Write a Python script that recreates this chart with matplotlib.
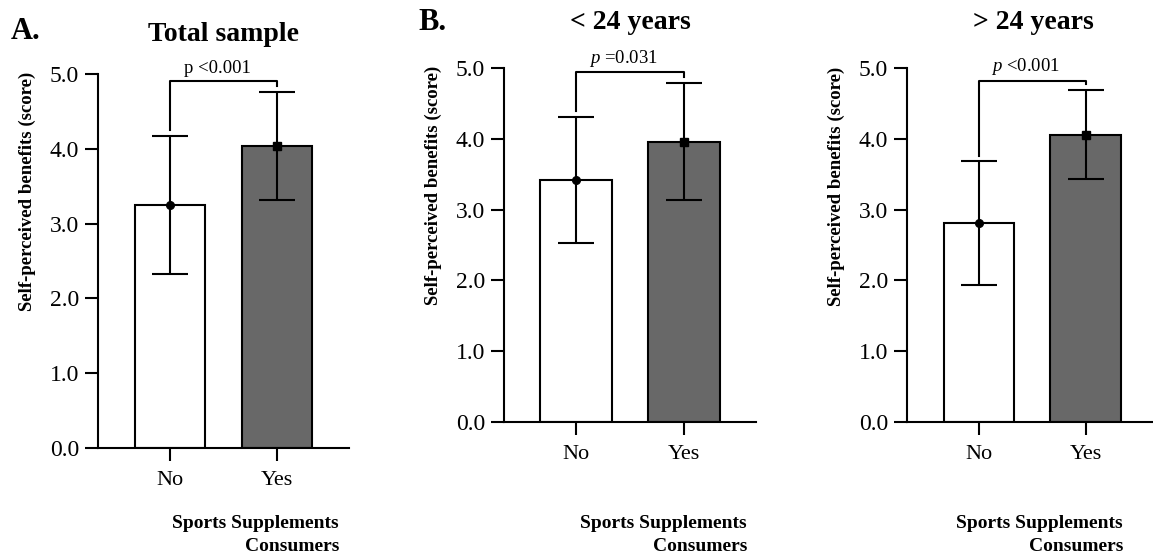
import matplotlib
matplotlib.use("Agg")
import matplotlib.pyplot as plt

plt.rcParams['font.family'] = ['Liberation Serif', 'DejaVu Serif']
plt.rcParams['mathtext.fontset'] = 'custom'
plt.rcParams['mathtext.rm'] = 'Liberation Serif'
plt.rcParams['mathtext.it'] = 'Liberation Serif:italic'

categories = ["No", "Yes"]
panel_titles = ["Total sample", "< 24 years", "> 24 years"]
panel_letters = ["A.", "B.", None]
means_total = [3.25, 4.04]
sd_total = [0.92, 0.72]
means_young = [3.42, 3.96]
sd_young = [0.89, 0.83]
means_old = [2.81, 4.06]
sd_old = [0.87, 0.63]
p_labels = ["p <0.001", r"$\it{p}$ =0.031", r"$\it{p}$ <0.001"]
bracket_y = [4.91, 4.94, 4.82]
bar_colors = ["white", "#686868"]
ytick_labels = ["0.0", "1.0", "2.0", "3.0", "4.0", "5.0"]

W, H = 1153, 556
fig = plt.figure(figsize=(W / 100, H / 100), dpi=100)

# axes pixel boxes: left, right, top(5.0), bottom(0.0), x-limits
boxes = [
    (98, 349, 74, 448, (-0.673, 1.673)),
    (504, 756, 68, 422, (-0.667, 1.667)),
    (907, 1153, 68, 422, (-0.673, 1.63)),
]
data = [(means_total, sd_total), (means_young, sd_young), (means_old, sd_old)]
title_pos = [(224, 41), (630, 29), (1033, 29)]
letter_pos = [(11, 39), (418, 30)]
ylab_pos = [(27, 191), (433, 185), (836, 186)]
xlab_right = [339, 747, 1123]

for i, ((l, r, t, b, xl), (m, s)) in enumerate(zip(boxes, data)):
    ax = fig.add_axes([l / W, 1 - b / H, (r - l) / W, (b - t) / H])
    x = [0, 1]
    ax.bar(x, m, width=0.66, color=bar_colors, edgecolor="black", linewidth=1.5, zorder=2)
    for xi, mi, si, mk in zip(x, m, s, ["o", "s"]):
        ax.errorbar(xi, mi, yerr=si, fmt=mk, color="black", ms=5.5, capsize=13,
                    elinewidth=1.5, capthick=1.5, zorder=3)
    # significance bracket
    by = bracket_y[i]
    top_no = m[0] + s[0] + 0.08
    top_yes = m[1] + s[1] + 0.08
    ax.plot([0, 0, 1, 1], [top_no, by, by, top_yes], color="black", lw=1.5,
            clip_on=False, zorder=4)
    ax.text(0.44, by + 0.05, p_labels[i], ha="center", va="bottom", fontsize=13.5)
    ax.set_xlim(*xl)
    ax.set_ylim(0, 5)
    ax.set_xticks(x)
    ax.set_xticklabels(categories, fontsize=16)
    ax.set_yticks([0, 1, 2, 3, 4, 5])
    ax.set_yticklabels(ytick_labels, fontsize=17)
    ax.tick_params(axis="both", direction="out", length=9.5, width=1.5)
    ax.tick_params(axis="y", pad=4)
    ax.tick_params(axis="x", pad=7)
    ax.spines["top"].set_visible(False)
    ax.spines["right"].set_visible(False)
    ax.spines["left"].set_linewidth(1.5)
    ax.spines["bottom"].set_linewidth(1.5)
    yx, yy = ylab_pos[i]
    fig.text(yx / W, 1 - yy / H, "Self-perceived benefits (score)",
             rotation=90, ha="center", va="center", fontsize=13.5, fontweight="bold")
    fig.text(xlab_right[i] / W, 1 - 528 / H, "Sports Supplements",
             ha="right", va="baseline", fontsize=14, fontweight="bold")
    fig.text(xlab_right[i] / W, 1 - 551 / H, "Consumers",
             ha="right", va="baseline", fontsize=14, fontweight="bold")
    tx, ty = title_pos[i]
    fig.text(tx / W, 1 - ty / H, panel_titles[i], ha="center", va="baseline",
             fontsize=20, fontweight="bold")
    if panel_letters[i]:
        lx, ly = letter_pos[i]
        fig.text(lx / W, 1 - ly / H, panel_letters[i], ha="left", va="baseline",
                 fontsize=22, fontweight="bold")

fig.savefig("out.png", dpi=100)
